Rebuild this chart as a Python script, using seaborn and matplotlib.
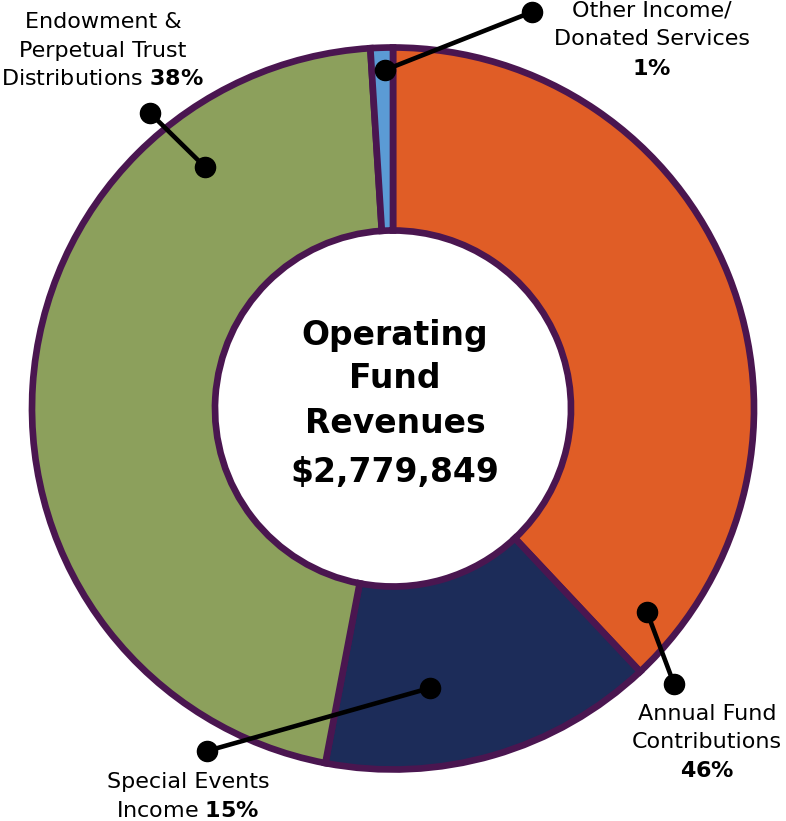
import matplotlib
matplotlib.use("Agg")
import matplotlib.pyplot as plt
import seaborn as sns

# ---- data ----
categories = ["Annual Fund Contributions", "Special Events Income",
              "Endowment & Perpetual Trust Distributions", "Other Income/Donated Services"]
slice_values = [38, 15, 46, 1]
label_pcts = ["46%", "15%", "38%", "1%"]
slice_colors = ["#E05D26", "#1C2C59", "#8CA05C", "#5B9BD5"]
title_lines = ["Operating", "Fund", "Revenues", "$2,779,849"]

sns.set_theme(style="white")
plt.rcParams["font.family"] = ["DejaVu Sans"]
plt.rcParams["mathtext.fontset"] = "dejavusans"

W, H = 786, 821
fig = plt.figure(figsize=(W / 100, H / 100), dpi=100)
ax = fig.add_axes([0, 0, 1, 1])

def Y(y):
    return H - y

cx, cy = 393, Y(408.5)
edge = "#4A1650"
ax.pie(slice_values, colors=slice_colors, startangle=90, counterclock=False,
       center=(cx, cy), radius=361,
       wedgeprops=dict(width=183, edgecolor=edge, linewidth=4.8))
ax.set_xlim(0, W)
ax.set_ylim(0, H)
ax.set_aspect("equal")
ax.axis("off")

# centre title
title_base = [345, 388, 433, 482]
for t, b in zip(title_lines, title_base):
    ax.text(395, Y(b), t, ha="center", va="baseline", fontsize=23.8,
            fontweight="bold", color="black")

# labels
fs = 16
def line(x, b, s):
    ax.text(x, Y(b), s, ha="center", va="baseline", fontsize=fs, color="black")

def pct(p):
    return r"$\mathbf{" + p.replace("%", r"\%") + "}$"

# Annual Fund
line(707, 720, "Annual Fund")
line(707, 748, "Contributions")
line(707, 777, pct(label_pcts[0]))
# Special Events
line(188, 788, "Special Events")
line(188, 817, "Income " + pct(label_pcts[1]))
# Endowment
line(103, 28, "Endowment &")
line(103, 57, "Perpetual Trust")
line(103, 85, "Distributions " + pct(label_pcts[2]))
# Other
line(652, 16, "Other Income/")
line(652, 45, "Donated Services")
line(652, 75, pct(label_pcts[3]))

# leader lines
leaders = [((647, 612), (674, 684)),
           ((430, 688), (207, 751)),
           ((150, 113), (205, 167)),
           ((385, 70), (532, 12))]
for (x1, y1), (x2, y2) in leaders:
    ax.plot([x1, x2], [Y(y1), Y(y2)], color="black", lw=3.3, marker="o",
            markersize=14.5, solid_capstyle="round", zorder=5)

fig.savefig("out.png", dpi=100)
